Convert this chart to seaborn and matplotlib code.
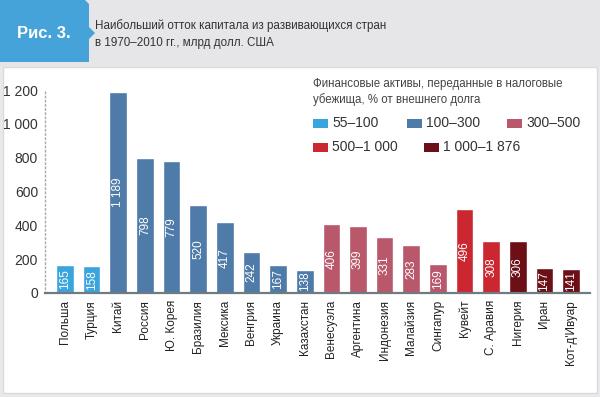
"""
Рис. 3 — наибольший отток капитала из развивающихся стран, 1970–2010
"""
import pandas as pd
import matplotlib
matplotlib.use("Agg")
import matplotlib.pyplot as plt
from matplotlib.patches import Polygon, Rectangle
import seaborn as sns

COUNTRIES = ["Польша", "Турция", "Китай", "Россия", "Ю. Корея", "Бразилия", "Мексика",
             "Венгрия", "Украина", "Казахстан", "Венесуэла", "Аргентина", "Индонезия",
             "Малайзия", "Сингапур", "Кувейт", "С. Аравия", "Нигерия", "Иран", "Кот-д'Ивуар"]
VALUES = [165, 158, 1189, 798, 779, 520, 417, 242, 167, 138,
          406, 399, 331, 283, 169, 496, 308, 306, 147, 141]
GROUPS = ["55–100", "55–100",
          "100–300", "100–300", "100–300", "100–300", "100–300", "100–300", "100–300", "100–300",
          "300–500", "300–500", "300–500", "300–500", "300–500",
          "500–1 000", "500–1 000",
          "1 000–1 876", "1 000–1 876", "1 000–1 876"]
GROUP_ORDER = ["55–100", "100–300", "300–500", "500–1 000", "1 000–1 876"]
GROUP_COLORS = ["#3aa5dc", "#4e7ba8", "#b9576b", "#cb2731", "#6d0f17"]
Y_TICKS = [0, 200, 400, 600, 800, 1000, 1200]

TITLE = "Наибольший отток капитала из развивающихся стран\nв 1970–2010 гг., млрд долл. США"
LEGEND_TITLE = "Финансовые активы, переданные в налоговые\nубежища, % от внешнего долга"

sns.set_style("white")
plt.rcParams["font.family"] = ["Liberation Sans", "DejaVu Sans"]

W, H = 600, 397


def fmt(v):
    return f"{v:,.0f}".replace(",", " ")


def main():
    df = pd.DataFrame({"country": COUNTRIES, "value": VALUES, "group": GROUPS})
    palette = dict(zip(GROUP_ORDER, GROUP_COLORS))

    fig = plt.figure(figsize=(6, 3.97), dpi=100, facecolor="#e9e9eb")

    # ---- фон: шапка, вкладка, белая рамка ----
    bg = fig.add_axes([0, 0, 1, 1], zorder=0)
    bg.set_xlim(0, W)
    bg.set_ylim(H, 0)
    bg.axis("off")
    bg.add_patch(Rectangle((3, 67), 594, 326, facecolor="white", edgecolor="#dadada", lw=1))
    bg.add_patch(Rectangle((0, 0), W, 67, facecolor="#e6e6e8", edgecolor="none"))
    bg.add_patch(Polygon([(0, 0), (85, 0), (89, 4), (89, 27), (95, 33), (89, 39), (89, 62), (0, 62)],
                         closed=True, facecolor="#45a3da", edgecolor="none"))
    bg.text(44, 33, "Рис. 3.", color="white", fontsize=12, fontweight="bold",
            ha="center", va="center")
    bg.text(95, 34, TITLE, color="#333333", fontsize=8.4, ha="left", va="center",
            linespacing=1.55)

    # ---- легенда (вручную, как на рисунке) ----
    bg.text(313, 92, LEGEND_TITLE, color="#444444", fontsize=8.3, ha="left", va="center",
            linespacing=1.4)
    legend_pos = [(313, 123), (407, 123), (507, 123), (313, 147), (424, 147)]
    for (lx, ly), name, col in zip(legend_pos, GROUP_ORDER, GROUP_COLORS):
        bg.add_patch(Rectangle((lx, ly - 4.5), 15, 9, facecolor=col, edgecolor="none"))
        bg.text(lx + 19, ly, name, color="#333333", fontsize=10, ha="left", va="center")

    # ---- столбцы ----
    ax = fig.add_axes([45 / W, 1 - 293 / H, 545 / W, 203 / H], zorder=1)
    ax.set_facecolor("none")
    sns.barplot(data=df, x="country", y="value", hue="group", hue_order=GROUP_ORDER,
                palette=palette, dodge=False, width=0.66, legend=False, ax=ax,
                saturation=1)
    for cont in ax.containers:
        ax.bar_label(cont, labels=[fmt(v) for v in cont.datavalues], label_type="center",
                     rotation=90, color="white", fontsize=8.5)

    ax.set_xlim(-0.75, 19.71)
    ax.set_ylim(0, 1200)
    ax.set_yticks(Y_TICKS)
    ax.set_yticklabels([fmt(v) for v in Y_TICKS], fontsize=10, color="#333333")
    ax.set_xticks(range(len(COUNTRIES)))
    ax.set_xticklabels(COUNTRIES, rotation=90, fontsize=8.5, color="#222222")
    ax.set_xlabel("")
    ax.set_ylabel("")
    ax.tick_params(axis="both", length=0)
    ax.tick_params(axis="y", pad=5)
    ax.tick_params(axis="x", pad=5)

    for side in ["top", "right"]:
        ax.spines[side].set_visible(False)
    ax.spines["bottom"].set_color("#6f7b80")
    ax.spines["bottom"].set_linewidth(1.6)
    ax.spines["left"].set_color("#aaaaaa")
    ax.spines["left"].set_linestyle((0, (1, 2)))
    ax.spines["left"].set_linewidth(1)

    fig.savefig("out.png", dpi=100, facecolor=fig.get_facecolor())


if __name__ == "__main__":
    main()
